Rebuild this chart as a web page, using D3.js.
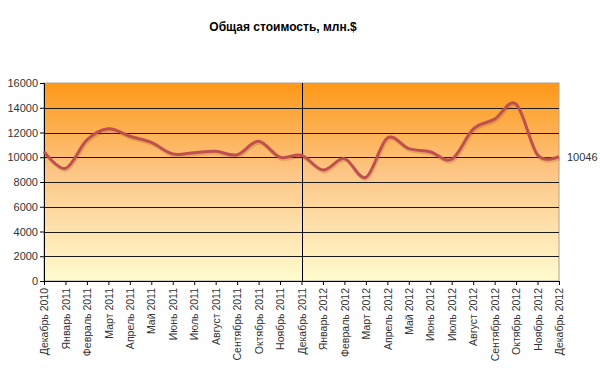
<!DOCTYPE html>
<html>
<head>
<meta charset="utf-8">
<script src="https://cdn.jsdelivr.net/npm/d3@7"></script>
<style>
  body { margin: 0; background: #fff; }
  svg { font-family: "Liberation Sans", Arial, sans-serif; }
</style>
</head>
<body>
<svg id="chart" width="600" height="368"></svg>
<script>
var months = ["Декабрь 2010", "Январь 2011", "Февраль 2011", "Март 2011", "Апрель 2011", "Май 2011",
    "Июнь 2011", "Июль 2011", "Август 2011", "Сентябрь 2011", "Октябрь 2011", "Ноябрь 2011",
    "Декабрь 2011", "Январь 2012", "Февраль 2012", "Март 2012", "Апрель 2012", "Май 2012",
    "Июнь 2012", "Июль 2012", "Август 2012", "Сентябрь 2012", "Октябрь 2012", "Ноябрь 2012",
    "Декабрь 2012"];
var totalValue = [10450, 9100, 11400, 12300, 11700, 11200, 10270, 10370, 10480, 10200, 11300, 10000,
    10160, 8970, 9890, 8380, 11560, 10700, 10450, 9840, 12270, 13080, 14300, 10200, 10046];
var yTicks = [0, 2000, 4000, 6000, 8000, 10000, 12000, 14000, 16000];
var markerMonth = "Декабрь 2011";

var margin = {top: 83, left: 44, right: 41, bottom: 87};
var svg = d3.select("#chart");
var width = 600 - margin.left - margin.right;
var height = 368 - margin.top - margin.bottom;

var x = d3.scalePoint().domain(months).range([0, width]);
var y = d3.scaleLinear().domain([0, 16000]).range([height, 0]);

var defs = svg.append("defs");
var grad = defs.append("linearGradient")
    .attr("id", "bg")
    .attr("x1", 0).attr("y1", 0).attr("x2", 0).attr("y2", 1);
grad.append("stop").attr("offset", "0%").attr("stop-color", "#fe9817");
grad.append("stop").attr("offset", "45%").attr("stop-color", "#fdc585");
grad.append("stop").attr("offset", "100%").attr("stop-color", "#fffcd0");

svg.append("text")
    .attr("x", 283)
    .attr("y", 31)
    .attr("text-anchor", "middle")
    .style("font-weight", "bold")
    .style("font-size", "12px")
    .text("Общая стоимость, млн.$");

var g = svg.append("g").attr("transform", "translate(" + margin.left + "," + margin.top + ")");

g.append("rect")
    .attr("width", width)
    .attr("height", height)
    .attr("fill", "url(#bg)")
    .attr("stroke", "#b0a090")
    .attr("stroke-width", 1);

// horizontal grid
g.selectAll(".grid")
    .data(yTicks.slice(1, -1))
    .enter().append("line")
    .attr("x1", 0)
    .attr("x2", width)
    .attr("y1", function(d) { return Math.round(y(d)) + 0.5; })
    .attr("y2", function(d) { return Math.round(y(d)) + 0.5; })
    .attr("stroke", "#1a1a1a")
    .attr("stroke-width", 1);

// separator at December 2011
g.append("line")
    .attr("x1", Math.round(x(markerMonth)) + 0.5)
    .attr("x2", Math.round(x(markerMonth)) + 0.5)
    .attr("y1", 0)
    .attr("y2", height)
    .attr("stroke", "#000")
    .attr("stroke-width", 1);

var yAxis = g.append("g")
    .call(d3.axisLeft(y).tickValues(yTicks).tickSize(4).tickFormat(d3.format("d")));
yAxis.select(".domain").attr("stroke", "#000");
yAxis.selectAll(".tick line").attr("stroke", "#000");
yAxis.selectAll("text")
    .attr("x", -6)
    .style("font-family", "Liberation Sans, Arial, sans-serif")
    .style("font-size", "11px")
    .attr("fill", "#333");

var xAxis = g.append("g")
    .attr("transform", "translate(0," + height + ")")
    .call(d3.axisBottom(x).tickSize(4).tickSizeOuter(0));
xAxis.select(".domain").attr("stroke", "#000");
xAxis.selectAll(".tick line").attr("stroke", "#000");
xAxis.selectAll("text")
    .attr("transform", "rotate(-90)")
    .attr("x", -7)
    .attr("y", 0)
    .attr("dy", "0.35em")
    .style("text-anchor", "end")
    .style("font-family", "Liberation Sans, Arial, sans-serif")
    .style("font-size", "10.5px")
    .attr("fill", "#333");

var line = d3.line()
    .x(function(d, i) { return x(months[i]); })
    .y(function(d) { return y(d); })
    .curve(d3.curveCatmullRom.alpha(0));

// soft shadow
g.append("path")
    .datum(totalValue)
    .attr("d", line)
    .attr("transform", "translate(1,2)")
    .attr("fill", "none")
    .attr("stroke", "rgba(120,60,20,0.18)")
    .attr("stroke-width", 3);

g.append("path")
    .datum(totalValue)
    .attr("d", line)
    .attr("fill", "none")
    .attr("stroke", "#c0504d")
    .attr("stroke-width", 3)
    .attr("stroke-linejoin", "round");

var last = totalValue.length - 1;
g.append("text")
    .attr("x", x(months[last]) + 8)
    .attr("y", y(totalValue[last]))
    .attr("dy", "0.35em")
    .style("font-size", "11px")
    .attr("fill", "#333")
    .text(totalValue[last]);
</script>
</body>
</html>
